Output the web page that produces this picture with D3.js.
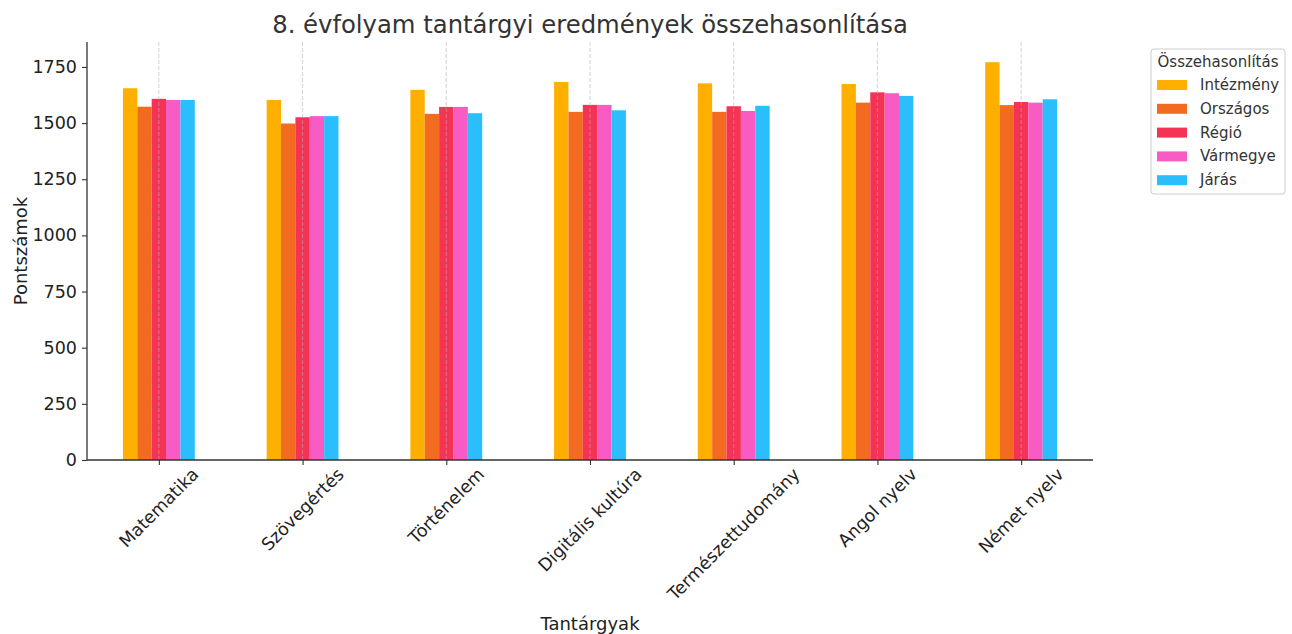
<!DOCTYPE html>
<html><head><meta charset="utf-8">
<script src="https://cdn.jsdelivr.net/npm/d3@7"></script>
<style>body{margin:0;background:#fff;} svg{display:block;font-family:"DejaVu Sans",sans-serif;}</style>
</head><body>
<svg id="chart" width="1292" height="634"></svg>
<script>
const categories = ["Matematika","Szövegértés","Történelem","Digitális kultúra","Természettudomány","Angol nyelv","Német nyelv"];
const seriesNames = ["Intézmény","Országos","Régió","Vármegye","Járás"];
const intezmeny = [1655,1603,1648,1683,1677,1674,1771];
const orszagos  = [1573,1498,1541,1550,1550,1591,1580];
const regio     = [1608,1526,1572,1581,1575,1637,1594];
const varmegye  = [1603,1531,1572,1581,1554,1633,1591];
const jaras     = [1603,1531,1544,1557,1577,1621,1606];
const yTicks = [0,250,500,750,1000,1250,1500,1750];
const colors = ["#FFAF00","#F26B21","#F53455","#F95BC4","#2ABEFD"];
const seriesValues = [intezmeny, orszagos, regio, varmegye, jaras];

(function(){
const svg = d3.select("#chart");
const pLeft = 87, pRight = 1093, pTop = 42, pBottom = 460;
const x = d3.scaleLinear().domain([-0.5, categories.length - 0.5]).range([pLeft, pRight]);
const y = d3.scaleLinear().domain([0, 1861]).range([pBottom, pTop]);
const barW = 0.1;

seriesValues.forEach((vals, si) => {
  svg.append("g").selectAll("rect").data(vals).join("rect")
    .attr("x", (d, i) => x(i - 0.25 + si * barW))
    .attr("width", x(barW) - x(0))
    .attr("y", d => y(d))
    .attr("height", d => y(0) - y(d))
    .attr("fill", colors[si]);
});

svg.append("g").selectAll("line").data(categories).join("line")
  .attr("x1", (d, i) => x(i)).attr("x2", (d, i) => x(i))
  .attr("y1", pTop).attr("y2", pBottom)
  .attr("stroke", "#b0b0b0").attr("stroke-opacity", 0.7)
  .attr("stroke-width", 0.8).attr("stroke-dasharray", "4,2");

const yAxis = d3.axisLeft(y).tickValues(yTicks).tickSize(5).tickPadding(5).tickFormat(d3.format("d"));
const gy = svg.append("g").attr("transform", `translate(${pLeft},0)`).call(yAxis);
gy.attr("font-family", "DejaVu Sans").attr("font-size", 17.5);
gy.select(".domain").attr("stroke", "#333").attr("stroke-width", 1.3).attr("d", `M0,${pTop}V${pBottom}`);
gy.selectAll(".tick line").attr("stroke", "#333").attr("stroke-width", 1.1);
gy.selectAll(".tick text").attr("fill", "#222");

const xAxis = d3.axisBottom(x).tickValues(d3.range(categories.length)).tickSize(5).tickFormat(() => "");
const gx = svg.append("g").attr("transform", `translate(0,${pBottom})`).call(xAxis);
gx.select(".domain").attr("stroke", "#333").attr("stroke-width", 1.3).attr("d", `M${pLeft},0H${pRight}`);
gx.selectAll(".tick line").attr("stroke", "#333").attr("stroke-width", 1.1);

const fs = 17.5;
categories.forEach((c, i) => {
  const t = svg.append("text").text(c).attr("font-size", fs).attr("fill", "#222")
    .attr("text-anchor", "middle").attr("dominant-baseline", "central");
  const w = t.node().getComputedTextLength();
  const h = (w + fs * 1.0) * Math.SQRT1_2;
  const cx = x(i), cy = pBottom + 5 + h / 2;
  t.attr("x", cx).attr("y", cy).attr("transform", `rotate(-45,${cx},${cy})`);
});

svg.append("text").text("Tantárgyak").attr("x", (pLeft + pRight) / 2).attr("y", 630)
  .attr("text-anchor", "middle").attr("font-size", 18).attr("fill", "#222");
svg.append("text").text("Pontszámok").attr("transform", `translate(27,${(pTop + pBottom) / 2}) rotate(-90)`)
  .attr("text-anchor", "middle").attr("font-size", 18).attr("fill", "#222");

svg.append("text").text("8. évfolyam tantárgyi eredmények összehasonlítása")
  .attr("x", (pLeft + pRight) / 2).attr("y", 33).attr("text-anchor", "middle")
  .attr("font-size", 24.3).attr("fill", "#333");

const lg = svg.append("g").attr("transform", "translate(1151,49)");
lg.append("rect").attr("width", 134).attr("height", 145).attr("rx", 3)
  .attr("fill", "#fff").attr("stroke", "#ccc").attr("stroke-width", 1);
lg.append("text").text("Összehasonlítás").attr("x", 67).attr("y", 18).attr("text-anchor", "middle")
  .attr("font-size", 15).attr("fill", "#333");
seriesNames.forEach((n, i) => {
  const yy = 36 + i * 23.8;
  lg.append("rect").attr("x", 6).attr("y", yy - 5).attr("width", 30).attr("height", 10).attr("fill", colors[i]);
  lg.append("text").text(n).attr("x", 49).attr("y", yy).attr("dominant-baseline", "central")
    .attr("font-size", 15).attr("fill", "#333");
});
})();
</script>
</body></html>
